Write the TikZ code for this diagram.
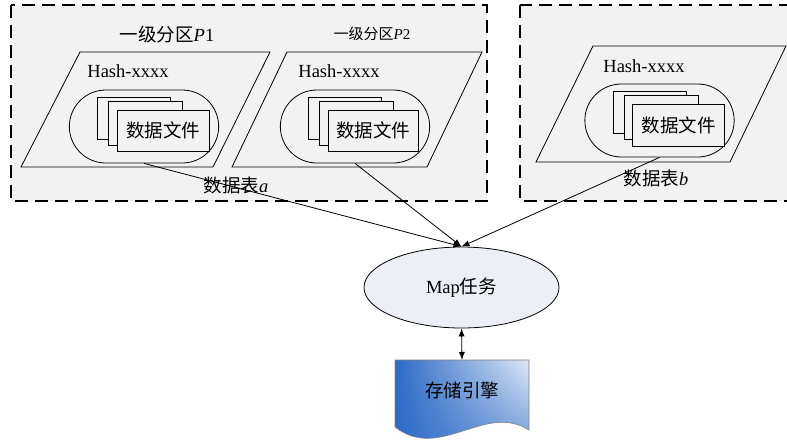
\documentclass[tikz,border=0pt]{standalone}
\usepackage{fontspec}
\setmainfont{Liberation Serif}
\newfontfamily\cjk{Noto Sans CJK SC}
\usetikzlibrary{shapes.misc,shapes.geometric,arrows.meta,shadings}

\definecolor{panelgray}{RGB}{242,242,242}
\definecolor{mapfill}{RGB}{236,239,245}
\definecolor{engdark}{RGB}{44,106,198}
\definecolor{englight}{RGB}{222,232,246}
\definecolor{engmid}{RGB}{96,142,214}

\tikzset{
    partbox/.style={draw, fill=panelgray, line width=2.8pt, dash pattern=on 13pt off 7pt},
    slot/.style={draw, rounded rectangle, fill=panelgray, minimum width=156pt, minimum height=73pt, line width=0.8pt},
    filebox/.style={draw, fill=panelgray, line width=0.8pt, inner sep=0pt},
    big/.style={font=\fontsize{18.5}{22}\selectfont},
    flow/.style={-{Latex[length=8pt,width=6pt]}, line width=0.8pt},
}

\begin{document}
\begin{tikzpicture}[x=1pt,y=-1pt]
        \useasboundingbox (0,0) rectangle (787,440);
        \clip (0,0) rectangle (787,440);

        \draw[partbox] (11,5) rectangle (487,201);
        \draw[partbox] (520,5) rectangle (800,201);

        \node[big] (p1) at (167,34) {{\cjk 一级分区}\textit{P}1};
        \node[font=\fontsize{15}{18}\selectfont] (p2) at (372,34) {{\cjk 一级分区}\textit{P}2};

        % table a, partition 1
        \draw[line width=0.8pt, fill=panelgray] (80,52) -- (270,52) -- (213,167) -- (21,167) -- cycle;
        \node[big] (h1) at (128,71) {Hash-xxxx};
        \node[slot] (slot1) at (144,126.5) {};
        \node[filebox, minimum width=73pt, minimum height=42pt] (f1a) at (133.5,118) {};
        \node[filebox, minimum width=74pt, minimum height=44pt] (f1b) at (145,123) {};
        \node[filebox, minimum width=92pt, minimum height=41pt, big] (f1c) at (163,130.5) {\cjk 数据文件};

        % table a, partition 2
        \draw[line width=0.8pt, fill=panelgray] (287,52) -- (482,52) -- (427,167) -- (232,167) -- cycle;
        \node[big] (h2) at (339,71) {Hash-xxxx};
        \node[slot] (slot2) at (355,126.5) {};
        \node[filebox, minimum width=73pt, minimum height=42pt] (f2a) at (344.5,118) {};
        \node[filebox, minimum width=74pt, minimum height=44pt] (f2b) at (356,123) {};
        \node[filebox, minimum width=90pt, minimum height=41pt, big] (f2c) at (373,130.5) {\cjk 数据文件};

        % table b
        \draw[line width=0.8pt, fill=panelgray] (593,46) -- (786,46) -- (730,162) -- (536,162) -- cycle;
        \node[big] (h3) at (644,66) {Hash-xxxx};
        \node[slot] (slot3) at (659.5,120.5) {};
        \node[filebox, minimum width=73pt, minimum height=42pt] (f3a) at (649.5,112) {};
        \node[filebox, minimum width=74pt, minimum height=44pt] (f3b) at (661,117) {};
        \node[filebox, minimum width=92pt, minimum height=42pt, big] (f3c) at (678.5,125) {\cjk 数据文件};

        \node[big] (ta) at (236,185) {{\cjk 数据表}\textit{a}};
        \node[big] (tb) at (656,178) {{\cjk 数据表}\textit{b}};

        \node[ellipse, draw, fill=mapfill, line width=0.8pt, minimum width=195pt, minimum height=81pt, big] (map) at (461.5,287.5) {Map{\cjk 任务}};

        \shade[upper left=engdark, lower left=engdark, upper right=englight, lower right=engmid, draw=gray, line width=0.6pt]
            (395,360) -- (529,360) -- (529,430) .. controls (485,402) and (440,462) .. (395,427) -- cycle;
        \node[big, anchor=north, minimum width=134pt, minimum height=60pt] (engine) at (462,360) {\cjk 存储引擎};

        \draw[flow] (slot1.south) -- (map.north);
        \draw[flow] (slot2.south) -- (map.north);
        \draw[flow] (slot3.south) -- (map.north);
        \draw[{Latex[length=8pt,width=6pt]}-{Latex[length=8pt,width=6pt]}, line width=0.8pt] (map.south) -- (engine.north);
    \end{tikzpicture}
\end{document}
